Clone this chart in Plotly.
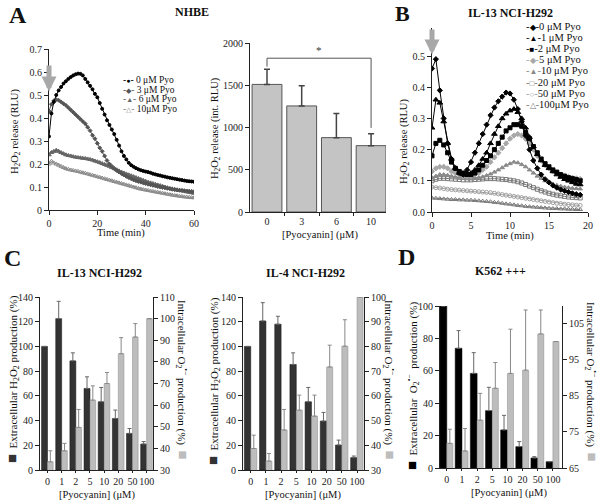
import plotly.graph_objects as go

W, H = 600, 501
FONT = "Liberation Serif, Times New Roman, serif"

def fx(px):
    return px / W

def fy(py):
    return 1 - py / H

# ---------------- data ----------------
# Panel A (NHBE) kinetics, one point per minute
A_time = list(range(0, 61))
A_0 = [0.32,0.42,0.47,0.50,0.52,0.535,0.55,0.56,0.57,0.578,0.585,
       0.59,0.593,0.592,0.585,0.57,0.555,0.54,0.525,0.505,0.49,
       0.465,0.44,0.415,0.39,0.37,0.35,0.33,0.305,0.28,0.255,
       0.235,0.22,0.205,0.195,0.188,0.182,0.177,0.173,0.17,0.167,
       0.165,0.162,0.158,0.155,0.152,0.15,0.147,0.145,0.142,0.14,
       0.138,0.136,0.134,0.132,0.13,0.128,0.126,0.125,0.124,0.123]
A_3 = [0.43,0.46,0.475,0.48,0.477,0.47,0.462,0.455,0.445,0.435,0.425,
       0.415,0.405,0.395,0.385,0.375,0.36,0.345,0.325,0.31,0.29,
       0.27,0.255,0.235,0.215,0.2,0.19,0.18,0.172,0.165,0.158,
       0.152,0.146,0.141,0.136,0.131,0.127,0.124,0.121,0.118,0.115,
       0.112,0.11,0.107,0.105,0.102,0.1,0.098,0.096,0.094,0.092,
       0.09,0.088,0.087,0.086,0.085,0.084,0.083,0.082,0.081,0.08]
A_6 = [0.24,0.25,0.255,0.26,0.255,0.25,0.245,0.24,0.237,0.235,0.232,
       0.23,0.228,0.227,0.225,0.224,0.222,0.22,0.217,0.213,0.21,
       0.206,0.202,0.198,0.194,0.19,0.185,0.18,0.175,0.17,0.165,
       0.161,0.157,0.153,0.149,0.145,0.141,0.137,0.133,0.129,0.125,
       0.121,0.118,0.115,0.112,0.109,0.106,0.103,0.1,0.097,0.094,
       0.092,0.09,0.088,0.086,0.084,0.082,0.079,0.077,0.075,0.073]
A_10 = [0.2,0.212,0.205,0.2,0.195,0.19,0.185,0.18,0.177,0.174,0.172,
        0.17,0.168,0.165,0.162,0.16,0.157,0.154,0.151,0.148,0.145,
        0.142,0.139,0.136,0.133,0.13,0.127,0.124,0.121,0.118,0.115,
        0.112,0.109,0.106,0.103,0.1,0.097,0.094,0.091,0.089,0.087,
        0.085,0.083,0.081,0.079,0.077,0.075,0.073,0.071,0.069,0.067,
        0.065,0.063,0.062,0.06,0.059,0.057,0.056,0.055,0.054,0.053]

# Panel A bars
A_conc = ["0", "3", "6", "10"]
A_int = [1510, 1255, 880, 785]
A_int_err = [180, 240, 285, 140]

# Panel B (IL-13 NCI-H292) kinetics, every 0.5 min
B_time = [i * 0.5 for i in range(39)]
B_0 = [0.46,0.49,0.39,0.30,0.22,0.17,0.14,0.125,0.12,0.135,0.16,0.19,0.22,0.25,0.28,0.31,0.335,0.355,0.37,0.383,
       0.38,0.36,0.33,0.29,0.245,0.2,0.165,0.14,0.12,0.105,0.095,0.085,0.078,0.072,0.068,0.064,0.06,0.057,0.055]
B_1 = [0.27,0.36,0.35,0.29,0.22,0.17,0.14,0.125,0.12,0.12,0.125,0.135,0.15,0.17,0.19,0.22,0.25,0.275,0.3,0.315,
       0.325,0.33,0.32,0.3,0.27,0.24,0.21,0.185,0.165,0.15,0.14,0.13,0.12,0.112,0.105,0.1,0.095,0.09,0.088]
B_2 = [0.18,0.22,0.23,0.215,0.19,0.16,0.14,0.13,0.125,0.12,0.12,0.125,0.135,0.15,0.165,0.18,0.2,0.22,0.24,0.26,
       0.27,0.28,0.28,0.275,0.255,0.235,0.21,0.19,0.17,0.155,0.145,0.135,0.128,0.12,0.115,0.11,0.107,0.104,0.1]
B_5 = [0.13,0.14,0.145,0.145,0.14,0.13,0.125,0.12,0.115,0.115,0.115,0.12,0.125,0.135,0.145,0.16,0.175,0.19,0.205,0.22,
       0.235,0.245,0.25,0.245,0.235,0.22,0.2,0.18,0.165,0.15,0.14,0.13,0.125,0.12,0.116,0.113,0.11,0.108,0.106]
B_10 = [0.11,0.115,0.12,0.12,0.118,0.115,0.112,0.11,0.108,0.107,0.107,0.108,0.11,0.113,0.117,0.122,0.128,0.135,0.142,0.15,
        0.155,0.16,0.158,0.152,0.145,0.135,0.125,0.115,0.108,0.1,0.095,0.09,0.086,0.083,0.08,0.078,0.076,0.075,0.074]
B_20 = [0.1,0.105,0.108,0.108,0.107,0.106,0.105,0.104,0.103,0.103,0.103,0.104,0.105,0.106,0.107,0.107,0.107,0.106,0.105,0.104,
        0.102,0.1,0.097,0.093,0.088,0.083,0.078,0.073,0.068,0.064,0.06,0.057,0.054,0.052,0.05,0.048,0.047,0.046,0.045]
B_50 = [0.08,0.078,0.077,0.075,0.073,0.072,0.071,0.07,0.069,0.068,0.067,0.066,0.065,0.064,0.063,0.062,0.06,0.058,0.056,0.054,
        0.052,0.05,0.048,0.046,0.044,0.042,0.04,0.038,0.036,0.034,0.032,0.03,0.028,0.027,0.025,0.024,0.023,0.022,0.021]
B_100 = [0.045,0.044,0.043,0.042,0.041,0.04,0.04,0.039,0.039,0.038,0.038,0.037,0.036,0.035,0.034,0.033,0.031,0.03,0.028,0.026,
         0.025,0.023,0.021,0.02,0.018,0.017,0.016,0.015,0.014,0.013,0.012,0.011,0.011,0.01,0.01,0.009,0.009,0.008,0.008]

# Panels C / D bars
pyo = ["0", "1", "2", "5", "10", "20", "50", "100"]
C1_ext = [100, 122.5, 88.3, 66, 55.2, 41.7, 29.6, 21]
C1_ext_err = [0, 14, 6.5, 9.4, 11.6, 6.8, 4, 2]
C1_int = [33.8, 38.9, 49.7, 62.3, 70, 83.8, 91.5, 100]
C1_int_err = [5.1, 3.4, 8.3, 6.6, 5.1, 7.4, 6.2, 0]
C2_ext = [100, 120.6, 118, 85.4, 55.2, 39.6, 20.2, 10]
C2_ext_err = [0, 14.8, 6.4, 9.4, 11.6, 7, 4, 1.3]
C2_int = [38.7, 33.6, 46.2, 54.2, 51.8, 71.7, 80.1, 100]
C2_int_err = [5.4, 3.1, 8.3, 6.1, 8.5, 8.8, 10.7, 0]
D_ext = [100, 73.9, 58.4, 35.4, 23.5, 13.2, 6.2, 3.9]
D_ext_err = [0, 10.9, 12.8, 14.4, 9, 3.1, 0.8, 0]
D_int = [71.8, 69.7, 78.2, 87.0, 91.1, 92.0, 102.0, 99.9]
D_int_err = [3.9, 6.2, 7.4, 7.1, 12.2, 16.6, 6.6, 0]

# ---------------- figure ----------------
fig = go.Figure()

def line_trace(x, y, color, symbol, size, xa, ya, lw=1):
    return go.Scatter(x=x, y=y, mode="lines+markers", xaxis=xa, yaxis=ya,
                      line=dict(color=color, width=lw),
                      marker=dict(symbol=symbol, size=size, color=color,
                                  line=dict(color=color, width=1)),
                      showlegend=False, hoverinfo="skip")

# Panel A kinetics
for ys, col, sym, sz in [(A_10, "#8a8a8a", "triangle-up-open", 4),
                         (A_6, "#666666", "triangle-up", 4),
                         (A_3, "#555555", "diamond", 3),
                         (A_0, "#000000", "circle", 3)]:
    fig.add_trace(line_trace(A_time, ys, col, sym, sz, "x", "y"))

# Panel A bars
fig.add_trace(go.Bar(x=A_conc, y=A_int, xaxis="x2", yaxis="y2", width=0.86,
                     marker=dict(color="#c4c4c4", line=dict(color="#555555", width=1)),
                     error_y=dict(type="data", array=A_int_err, arrayminus=[0] * 4,
                                  symmetric=False, color="#444444", thickness=1.5, width=3),
                     showlegend=False, hoverinfo="skip"))

# Panel B kinetics
for ys, col, sym, sz in [(B_100, "#7a7a7a", "triangle-up-open", 4),
                         (B_50, "#a0a0a0", "circle-open", 4),
                         (B_20, "#777777", "square-open", 4),
                         (B_10, "#8a8a8a", "triangle-up", 4),
                         (B_5, "#a8a8a8", "diamond", 4),
                         (B_2, "#000000", "square", 4),
                         (B_1, "#000000", "triangle-up", 5),
                         (B_0, "#000000", "diamond", 4)]:
    fig.add_trace(line_trace(B_time, ys, col, sym, sz, "x3", "y3"))

def errs(e):
    return [v if v > 0 else None for v in e]

def bar_pair(ext, ext_err, intr, intr_err, xa, ya_l, ya_r, dark, wd, wg):
    n = len(ext)
    fig.add_trace(go.Bar(x=pyo, y=ext, xaxis=xa, yaxis=ya_l, offset=-wd, width=wd,
                         marker=dict(color=dark, line=dict(color="#111111", width=0.5)),
                         error_y=dict(type="data", array=errs(ext_err), arrayminus=[0] * n,
                                      symmetric=False, color="#666666", thickness=1, width=2),
                         showlegend=False, hoverinfo="skip"))
    fig.add_trace(go.Bar(x=pyo, y=intr, xaxis=xa, yaxis=ya_r, offset=0, width=wg,
                         marker=dict(color="#bdbdbd", line=dict(color="#888888", width=0.5)),
                         error_y=dict(type="data", array=errs(intr_err), arrayminus=[0] * n,
                                      symmetric=False, color="#888888", thickness=1, width=2),
                         showlegend=False, hoverinfo="skip"))

bar_pair(C1_ext, C1_ext_err, C1_int, C1_int_err, "x4", "y4", "y5", "#333333", 0.42, 0.40)
bar_pair(C2_ext, C2_ext_err, C2_int, C2_int_err, "x5", "y6", "y7", "#333333", 0.42, 0.40)
bar_pair(D_ext, D_ext_err, D_int, D_int_err, "x6", "y8", "y9", "#000000", 0.45, 0.40)

# ---------------- axes ----------------
tickfont = dict(family=FONT, size=10, color="#222222")

def ax(**kw):
    d = dict(showline=True, linecolor="#222222", linewidth=1, ticks="outside", ticklen=4,
             tickcolor="#222222", tickfont=tickfont, showgrid=False, zeroline=False,
             fixedrange=True, automargin=False, tickangle=0)
    d.update(kw)
    return d

fig.update_layout(
    width=W, height=H, autosize=False, margin=dict(l=0, r=0, t=0, b=0, pad=0),
    paper_bgcolor="white", plot_bgcolor="white", showlegend=False,
    bargap=0.15,
    xaxis=ax(domain=[fx(49), fx(194)], range=[0, 60], tickvals=[0, 20, 40, 60], anchor="y"),
    yaxis=ax(domain=[fy(210), fy(49)], range=[0, 0.7], dtick=0.1, anchor="x"),
    xaxis2=ax(domain=[fx(250), fx(386)], type="category", range=[-0.49, 3.43], anchor="y2",
              ticklen=3, tickson="boundaries"),
    yaxis2=ax(domain=[fy(212), fy(43)], range=[0, 2000], tickvals=[0, 500, 1000, 1500, 2000], anchor="x2"),
    xaxis3=ax(domain=[fx(432), fx(588)], range=[0, 20], dtick=5, anchor="y3"),
    yaxis3=ax(domain=[fy(212), fy(28)], range=[0, 0.59], tickvals=[0, 0.1, 0.2, 0.3, 0.4, 0.5],
              tickformat=".1f", anchor="x3"),
    xaxis4=ax(domain=[fx(40), fx(153)], type="category", range=[-0.53, 7.45], anchor="y4", ticklen=2),
    yaxis4=ax(domain=[fy(470), fy(297)], range=[0, 140], dtick=20, anchor="x4"),
    yaxis5=ax(overlaying="y4", side="right", anchor="x4", range=[30, 110], dtick=10),
    xaxis5=ax(domain=[fx(243), fx(364)], type="category", range=[-0.51, 7.46], anchor="y6", ticklen=2),
    yaxis6=ax(domain=[fy(470), fy(297)], range=[0, 140], dtick=20, anchor="x5"),
    yaxis7=ax(overlaying="y6", side="right", anchor="x5", range=[30, 100], dtick=10),
    xaxis6=ax(domain=[fx(440), fx(562)], type="category", range=[-0.45, 7.6], anchor="y8", ticklen=2),
    yaxis8=ax(domain=[fy(468), fy(306)], range=[0, 100], dtick=20, anchor="x6"),
    yaxis9=ax(overlaying="y8", side="right", anchor="x6", range=[65, 109.7],
              tickvals=[65, 75, 85, 95, 105]),
)

# ---------------- annotations ----------------
ann = []

def text(px, py, s, size=10, bold=False, angle=0, xa="center", ya="middle", color="#111111"):
    ann.append(dict(x=fx(px), y=fy(py), xref="paper", yref="paper", text=("<b>%s</b>" % s) if bold else s,
                    showarrow=False, textangle=angle, xanchor=xa, yanchor=ya,
                    font=dict(family=FONT, size=size, color=color)))

# panel letters & titles
text(18, 15, "A", 24, True)
text(402, 13, "B", 22, True)
text(12, 258, "C", 24, True)
text(406, 257, "D", 24, True)
text(192, 12, "NHBE", 12, True)
text(510, 13, "IL-13 NCI-H292", 12, True)
text(99, 273, "IL-13 NCI-H292", 12, True)
text(305, 273, "IL-4 NCI-H292", 12, True)
text(500, 271, "K562 +++", 12, True)

H2O2 = "H<sub>2</sub>O<sub>2</sub>"
O2 = "O<sub>2</sub><sup>•−</sup>"
# axis titles, top row
text(15, 132, H2O2 + " release (RLU)", 10.5, angle=-90)
text(121, 233, "Time (min)", 10.5)
text(216, 128, H2O2 + " release (int. RLU)", 10.5, angle=-90)
text(320, 235, "[Pyocyanin] (μM)", 10.5)
text(405, 142, H2O2 + " release (RLU)", 10.5, angle=-90)
text(510, 236, "Time (min)", 10.5)

dsq = "<span style='font-size:15px;color:#333333'>■</span>"
bsq = "<span style='font-size:15px;color:#000000'>■</span>"
gsq = "<span style='font-size:15px;color:#bdbdbd'>■</span>"
# bottom row
text(12, 379, dsq + "  Extracellular " + H2O2 + " production (%)", 11, angle=-90)
text(183, 380, "Intracellular " + O2 + " production (%)  " + gsq, 11, angle=90)
text(97, 495, "[Pyocyanin] (μM)", 10.5)
text(213, 381, dsq + "  Extracellular " + H2O2 + " production (%)", 11, angle=-90)
text(390, 380, "Intracellular " + O2 + " production (%)  " + gsq, 11, angle=90)
text(303, 495, "[Pyocyanin] (μM)", 10.5)
text(412, 386, bsq + "  Extracellular  " + O2 + "  production (%)", 11, angle=-90)
text(592, 382, "Intracellular " + O2 + " production (%)  " + gsq, 11, angle=90)
text(509, 493, "[Pyocyanin] (μM)", 10.5)

# legends (A)
legA = [("#000000", "●", "0 μM Pyo"), ("#555555", "◆", "3 μM Pyo"),
        ("#666666", "▲", "6 μM Pyo"), ("#8a8a8a", "△", "10μM Pyo")]
for i, (c, g, lab) in enumerate(legA):
    text(121, 80 + i * 9.6,
         "<span style='color:%s'>-<span style='font-size:7px'>%s</span>-</span> %s" % (c, g, lab),
         9.5, xa="left")

legB = [("#000000", "◆", "0 μM Pyo"), ("#000000", "▲", "1 μM Pyo"), ("#000000", "■", "2 μM Pyo"),
        ("#a8a8a8", "◆", "5 μM Pyo"), ("#8a8a8a", "▲", "10 μM Pyo"), ("#777777", "□", "20 μM Pyo"),
        ("#a0a0a0", "○", "50 μM Pyo"), ("#7a7a7a", "△", "100μM Pyo")]
for i, (c, g, lab) in enumerate(legB):
    text(524, 26 + i * 11.2,
         "<span style='color:%s'>-<span style='font-size:8px'>%s</span>-</span>%s" % (c, g, lab),
         10.5, xa="left")

# stimulation arrows
ann.append(dict(x=0, y=0.515, ax=0, ay=0.635, xref="x", yref="y", axref="x", ayref="y",
                text="", showarrow=True, arrowhead=2, arrowsize=0.6, arrowwidth=5, arrowcolor="#a8a8a8"))
ann.append(dict(x=0, y=0.505, ax=0, ay=0.59, xref="x3", yref="y3", axref="x3", ayref="y3",
                text="", showarrow=True, arrowhead=2, arrowsize=0.6, arrowwidth=5, arrowcolor="#a8a8a8"))

# significance bracket (panel A bars)
top = max(m + e for m, e in zip(A_int, A_int_err)) + 130
left_end = A_int[0] + A_int_err[0] + 30
right_end = A_int[-1] + A_int_err[-1] + 70
shapes = [
    dict(type="line", xref="x2", yref="y2", x0=0, x1=0, y0=left_end, y1=top, line=dict(color="#555555", width=1)),
    dict(type="line", xref="x2", yref="y2", x0=0, x1=3, y0=top, y1=top, line=dict(color="#555555", width=1)),
    dict(type="line", xref="x2", yref="y2", x0=3, x1=3, y0=right_end, y1=top, line=dict(color="#555555", width=1)),
]
ann.append(dict(x=1.5, y=top, xref="x2", yref="y2", text="*", showarrow=False, yanchor="bottom",
                font=dict(family=FONT, size=11, color="#333333")))

fig.update_layout(annotations=ann, shapes=shapes)
fig.write_html("out.html", config={"displayModeBar": False},
               post_script="document.body.style.margin='0';document.body.style.padding='0';")
